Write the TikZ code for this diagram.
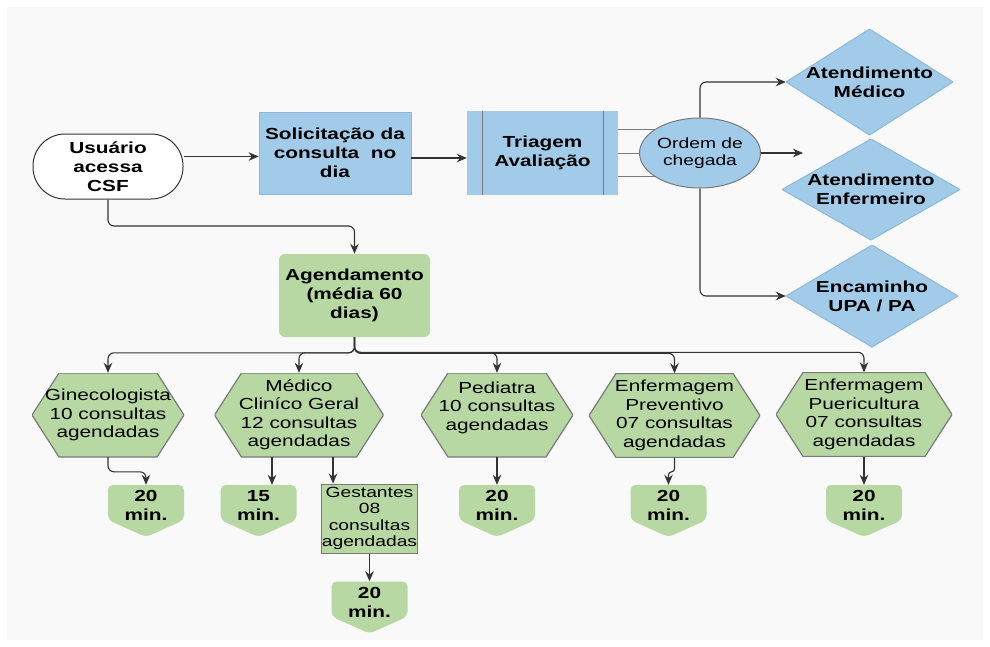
\documentclass[tikz,border=0pt]{standalone}
\usepackage{fontspec}
\setmainfont[FakeStretch=1.3]{Liberation Sans}
\usetikzlibrary{arrows.meta,shapes.geometric,calc}
\definecolor{bl}{HTML}{A2CBEA}
\definecolor{blb}{HTML}{8DB8DA}
\definecolor{gr}{HTML}{B7D8A3}
\definecolor{ln}{HTML}{333333}
\definecolor{bd}{HTML}{7A7A7A}
\definecolor{bgc}{HTML}{F9F9F9}
\tikzset{
  base/.style={inner sep=0pt, align=center},
  tb/.style={font=\fontsize{16}{19}\selectfont\bfseries},
  tr/.style={font=\fontsize{16}{18.5}\selectfont},
  ts/.style={font=\fontsize{14.8}{16.5}\selectfont},
  arr/.style={draw=ln, line width=1.1pt, -{Stealth[length=10pt,width=8.5pt]}, rounded corners=6pt},
  thin/.style={draw=bd, line width=0.9pt},
  hexnode/.style={base, tr, minimum width=#1, minimum height=84pt,
    path picture={\filldraw[fill=gr, draw=bd, line width=1.2pt]
      (path picture bounding box.west)
      -- ([xshift=27pt]path picture bounding box.north west)
      -- ([xshift=-27pt]path picture bounding box.north east)
      -- (path picture bounding box.east)
      -- ([xshift=-27pt]path picture bounding box.south east)
      -- ([xshift=27pt]path picture bounding box.south west) -- cycle;}},
  dianode/.style={base, tb, path picture={\filldraw[fill=bl, draw=blb, line width=1pt]
      (path picture bounding box.west) -- (path picture bounding box.north)
      -- (path picture bounding box.east) -- (path picture bounding box.south) -- cycle;}},
  offnode/.style={base, tb, minimum width=76pt, minimum height=52pt,
    path picture={\fill[gr, rounded corners=5pt]
      (path picture bounding box.south)
      -- ([yshift=17pt]path picture bounding box.south west)
      -- (path picture bounding box.north west)
      -- (path picture bounding box.north east)
      -- ([yshift=17pt]path picture bounding box.south east) -- cycle;}},
}
\begin{document}
\begin{tikzpicture}[x=1pt,y=-1pt]
\useasboundingbox (0,0) rectangle (990,646);
\fill[bgc] (7,7) rectangle (983,640);

% top row
\node[base, tb, draw=ln, line width=1pt, fill=white, rounded corners=32pt,
      minimum width=150pt, minimum height=65pt] (usr) at (108,166.5) {Usuário\\acessa\\CSF};
\node[base, tb, fill=bl, draw=blb, line width=0.8pt, minimum width=152pt, minimum height=82pt]
      (sol) at (335,153) {Solicitação da\\consulta~ no\\dia};
\node[base, tb, fill=bl, minimum width=151pt, minimum height=84pt] (tri) at (542.5,153) {Triagem\\Avaliação};
\draw[thin] ([xshift=16pt]tri.north west) -- ([xshift=16pt]tri.south west);
\draw[thin] ([xshift=-15pt]tri.north east) -- ([xshift=-15pt]tri.south east);
\node[base, ts, ellipse, fill=bl, draw=bd, line width=1pt, minimum width=94pt, minimum height=70pt]
      (ord) at (700,153) {Ordem de\\chegada};

\node[dianode, minimum width=167pt, minimum height=106pt] (d1) at (869.5,82) {Atendimento\\Médico};
\node[dianode, minimum width=178pt, minimum height=101pt] (d2) at (871,189.5) {Atendimento\\Enfermeiro};
\node[dianode, minimum width=172pt, minimum height=102pt] (d3) at (872,296) {Encaminho\\UPA / PA};
\coordinate (free) at (803,153);

\draw[arr] ([yshift=10pt]usr.east) -- ([yshift=10pt]usr.east -| sol.west);
\draw[arr] ([yshift=-5pt]sol.east) -- ([yshift=-5pt]sol.east -| tri.west);
\draw[thin] (ord.152 -| tri.east) -- (ord.152);
\draw[thin] (tri.east) -- (ord.west);
\draw[thin] (ord.208 -| tri.east) -- (ord.208);
\draw[arr] (ord.north) |- (d1.west);
\draw[arr] (ord.east) -- (free);
\draw[arr] (ord.south) |- (d3.west);

% agendamento
\node[base, tb, fill=gr, rounded corners=6pt, minimum width=151pt, minimum height=83pt]
      (ag) at (354.5,295.5) {Agendamento\\(média 60\\dias)};
\coordinate (b1) at (200,226);
\draw[arr] (usr.south) |- (b1) -| (ag.north);

% hexagons
\node[hexnode=152pt] (h1) at (108,415) {Ginecologista\\10 consultas\\agendadas};
\node[hexnode=169pt] (h2) at (299,415) {Médico\\Cliníco Geral\\12 consultas\\agendadas};
\node[hexnode=152pt] (h3) at (497,415) {Pediatra\\10 consultas\\agendadas\\\mbox{}};
\node[hexnode=171pt] (h4) at (674.5,415.5) {Enfermagem\\Preventivo\\07 consultas\\agendadas};
\node[hexnode=176pt] (h5) at (864,414.5) {Enfermagem\\Puericultura\\07 consultas\\agendadas};

\foreach \h in {h1,h2,h3,h4,h5}
  \draw[arr] (ag.south) |- ([yshift=20pt]\h.north) -- (\h.north);

% time nodes
\node[offnode] (o1) at (146,511) {20\\min.\\[-8pt]\mbox{}};
\node[offnode] (o2) at (258.5,511) {15\\min.\\[-8pt]\mbox{}};
\node[offnode] (o4) at (497,511) {20\\min.\\[-8pt]\mbox{}};
\node[offnode] (o5) at (668.5,511) {20\\min.\\[-8pt]\mbox{}};
\node[offnode] (o6) at (864,511) {20\\min.\\[-8pt]\mbox{}};
\node[base, ts, fill=gr, draw=bd, line width=1pt, minimum width=95pt, minimum height=69pt]
      (g) at (369.5,518.5) {Gestantes\\08\\consultas\\agendadas};
\node[offnode] (o3) at (369.5,607.5) {20\\min.\\[-8pt]\mbox{}};

\coordinate (h2a) at ([xshift=-27pt]h2.south);
\coordinate (h2b) at ([xshift=34pt]h2.south);
\draw[arr] (h1.south) |- ([yshift=13pt]o1.north) -- (o1.north);
\draw[arr] (h2a) -- (h2a |- o2.north);
\draw[arr] (h2b) -- (h2b |- g.north);
\draw[arr] (g.south) -- (o3.north);
\draw[arr] (h3.south) -- (o4.north);
\draw[arr, rounded corners=3pt] (h4.south) |- ([yshift=13pt]o5.north) -- (o5.north);
\draw[arr] (h5.south) -- (o6.north);
\end{tikzpicture}
\end{document}
